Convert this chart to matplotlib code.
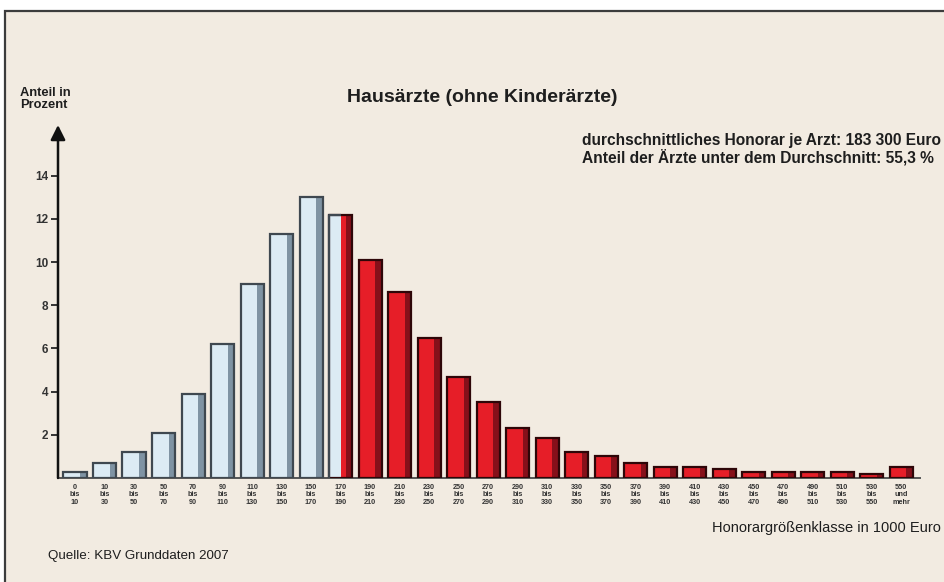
import numpy as np
import matplotlib.pyplot as plt
from matplotlib.patches import Rectangle

# Honorargroessenklassen (in 1000 Euro)
lower = ['0', '10', '30', '50', '70', '90', '110', '130', '150', '170', '190', '210',
         '230', '250', '270', '290', '310', '330', '350', '370', '390', '410', '430',
         '450', '470', '490', '510', '530', '550']
upper = ['10', '30', '50', '70', '90', '110', '130', '150', '170', '190', '210', '230',
         '250', '270', '290', '310', '330', '350', '370', '390', '410', '430', '450',
         '470', '490', '510', '530', '550', 'mehr']
# Anteil in Prozent
share = [0.3, 0.7, 1.2, 2.1, 3.9, 6.2, 9.0, 11.3, 13.0, 12.2, 10.1, 8.6, 6.5, 4.7,
         3.5, 2.3, 1.85, 1.2, 1.0, 0.7, 0.5, 0.5, 0.4, 0.3, 0.3, 0.3, 0.3, 0.2, 0.5]
split_idx = 9  # class holding the average (half below, half above)

bg = '#f2ebe1'
blue_face, blue_side, blue_edge = '#dcebf4', '#7f93a3', '#3f4850'
red_face, red_side, red_edge = '#e61e28', '#86101a', '#2e0608'
txt = '#1e1e1e'
font = 'Liberation Sans'

fig = plt.figure(figsize=(9.45, 5.82), dpi=100)
fig.patch.set_facecolor('white')
frame = Rectangle((5 / 945, -0.05), 1.0, 1 - 11 / 582 + 0.05,
                  transform=fig.transFigure, facecolor=bg,
                  edgecolor='#3c3c3c', lw=1.6, zorder=-5)
fig.patches.append(frame)

ax = fig.add_axes([58 / 945, 1 - 478 / 582, (920 - 58) / 945, (478 - 125) / 582])
ax.set_facecolor('none')
ax.set_zorder(2)

x = np.arange(len(share))
w = 0.78
sw = 0.22
for i, v in enumerate(share):
    if i < split_idx:
        face, side, edge = blue_face, blue_side, blue_edge
    else:
        face, side, edge = red_face, red_side, red_edge
    ax.bar(x[i], v, width=w, color=face, lw=0, zorder=2)
    if i == split_idx:
        ax.bar(x[i] - w / 4, v, width=w / 2, color=blue_face, lw=0, zorder=3)
    ax.bar(x[i] + w / 2 - sw / 2, v, width=sw, color=side, lw=0, zorder=3)
    ax.bar(x[i], v, width=w, fill=False, edgecolor=edge, lw=1.6, zorder=4)
    if i == split_idx:
        # left half of the split bar keeps the grey outline
        ax.plot([x[i] - w / 2, x[i] - w / 2, x[i]], [0, v, v], color=blue_edge,
                lw=1.6, zorder=5, solid_capstyle='butt')

ax.set_xlim(-0.576, 28.64)
ax.set_ylim(0, 16.35)

labels = [f'{a}\n{"und" if b == "mehr" else "bis"}\n{b}' for a, b in zip(lower, upper)]
ax.set_xticks(x)
ax.set_xticklabels(labels, fontsize=5.2, fontweight='bold', color='#333333',
                   linespacing=1.1, family=font)
ax.tick_params(axis='x', length=0, pad=4)

ax.set_yticks([2, 4, 6, 8, 10, 12, 14])
ax.set_yticklabels(['2', '4', '6', '8', '10', '12', '14'], fontsize=8.5,
                   fontweight='bold', color='#333333', family=font)
ax.tick_params(axis='y', length=5, width=1.4, color='#333333', pad=2)

for s in ['top', 'right', 'left']:
    ax.spines[s].set_visible(False)
ax.spines['bottom'].set_color('#555555')
ax.spines['bottom'].set_linewidth(1.4)
ax.annotate('', xy=(0, 1), xytext=(0, 0), xycoords='axes fraction',
            arrowprops=dict(arrowstyle='-|>', lw=1.8, color='#111111',
                            mutation_scale=22, shrinkA=0, shrinkB=0))

fig.text(20 / 945, 1 - 99 / 582, 'Anteil in\nProzent', fontsize=9.3, fontweight='bold',
         color=txt, family=font, ha='left', va='center',
         multialignment='left', linespacing=1.05)
fig.text(482 / 945, 1 - 97 / 582, 'Hausärzte (ohne Kinderärzte)', fontsize=14,
         fontweight='bold', color=txt, family=font, ha='center', va='center')
fig.text(941 / 945, 1 - 140 / 582, 'durchschnittliches Honorar je Arzt: 183 300 Euro',
         fontsize=11.2, fontweight='bold', color=txt, family=font, ha='right', va='center')
fig.text(934 / 945, 1 - 157 / 582, 'Anteil der Ärzte unter dem Durchschnitt: 55,3 %',
         fontsize=11.2, fontweight='bold', color=txt, family=font, ha='right', va='center')
fig.text(941 / 945, 1 - 528 / 582, 'Honorargrößenklasse in 1000 Euro', fontsize=10.5,
         color=txt, family=font, ha='right', va='center')
fig.text(48 / 945, 1 - 556 / 582, 'Quelle: KBV Grunddaten 2007', fontsize=9.6,
         color=txt, family=font, ha='left', va='center')

fig.savefig('out.png', dpi=100)
